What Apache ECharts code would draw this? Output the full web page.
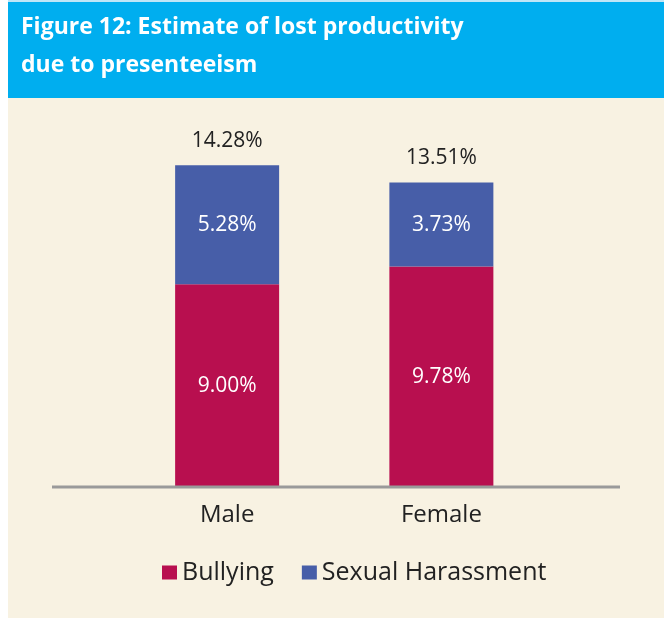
<!DOCTYPE html>
<html>
<head>
<meta charset="utf-8">
<script src="https://cdn.jsdelivr.net/npm/echarts@6/dist/echarts.min.js"></script>
<style>
html,body{margin:0;padding:0;background:#fff;}
#c{width:664px;height:618px;}
</style>
</head>
<body>
<div id="c"></div>
<script>
const categories = ['Male', 'Female'];
const bullying = [9.00, 9.78];
const harassment = [5.28, 3.73];
const totals = [14.28, 13.51];
const seriesNames = ['Bullying', 'Sexual Harassment'];

const FONT = '"Open Sans", "Noto Sans", sans-serif';
const chart = echarts.init(document.getElementById('c'));
const pct = v => v.toFixed(2) + '%';

chart.setOption({
  backgroundColor: '#F8F2E2',
  animation: false,
  graphic: [
    { type: 'rect', shape: { x: 0, y: 0, width: 8, height: 618 }, style: { fill: '#ffffff' }, z: -1 },
    { type: 'rect', shape: { x: 8, y: 0, width: 656, height: 2 }, style: { fill: '#BFE6F7' }, z: -1 },
    { type: 'rect', shape: { x: 8, y: 2, width: 656, height: 96 }, style: { fill: '#00AEEF' }, z: -1 },
    { type: 'line', shape: { x1: 52, y1: 487, x2: 620, y2: 487 }, style: { stroke: '#9A9A9A', lineWidth: 3 }, z: 10 }
  ],
  title: {
    text: 'Figure 12: Estimate of lost productivity\ndue to presenteeism',
    left: 16, top: 3,
    textStyle: { color: '#ffffff', fontFamily: FONT, fontWeight: 'bold', fontSize: 23, lineHeight: 38 }
  },
  legend: {
    data: seriesNames,
    left: 162, top: 560, padding: 0,
    itemWidth: 15, itemHeight: 14, itemGap: 28,
    icon: 'rect',
    textStyle: { fontFamily: FONT, fontSize: 25, color: '#222' }
  },
  grid: { left: 120, right: 115.5, top: 149, bottom: 131 },
  xAxis: {
    type: 'category',
    data: categories,
    axisLine: { show: false },
    axisTick: { show: false },
    axisLabel: { fontFamily: FONT, fontSize: 24, color: '#222', margin: 16 }
  },
  yAxis: { type: 'value', min: 0, max: 15, show: false, splitLine: { show: false } },
  series: [
    {
      name: seriesNames[0], type: 'bar', stack: 'a', data: bullying, barWidth: 104,
      itemStyle: { color: '#B80F4F' },
      label: { show: true, position: 'inside', color: '#fff', fontFamily: FONT, fontSize: 21, formatter: p => pct(p.value) }
    },
    {
      name: seriesNames[1], type: 'bar', stack: 'a', data: harassment, barWidth: 104,
      itemStyle: { color: '#475EA8' },
      label: { show: true, position: 'inside', color: '#fff', fontFamily: FONT, fontSize: 21, formatter: p => pct(p.value) }
    },
    {
      name: 'Total', type: 'bar', data: totals, barWidth: 104, barGap: '-100%', silent: true,
      itemStyle: { color: 'rgba(0,0,0,0)' },
      label: { show: true, position: 'top', distance: 14, color: '#222', fontFamily: FONT, fontSize: 21, formatter: p => pct(p.value) }
    }
  ]
});
</script>
</body>
</html>
